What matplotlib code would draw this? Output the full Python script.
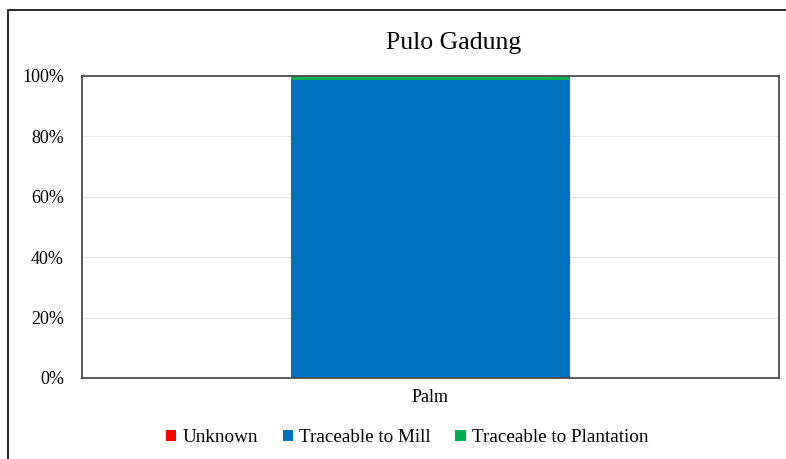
import matplotlib
matplotlib.use("Agg")
import matplotlib.pyplot as plt
from matplotlib.patches import Rectangle, Patch

categories = ["Palm"]
unknown = [0.0]
mill = [98.7]
plantation = [1.3]
series_names = ["Unknown", "Traceable to Mill", "Traceable to Plantation"]
colors = ["#FF0000", "#0070C0", "#00B050"]
yticks = [0, 20, 40, 60, 80, 100]

plt.rcParams['font.family'] = ['Liberation Serif', 'DejaVu Serif']

fig = plt.figure(figsize=(7.86, 4.59), dpi=100)
ax = fig.add_axes([82/786, 1-378/459, (779-82)/786, (378-76)/459])

x = list(range(len(categories)))
ax.bar(x, unknown, width=0.4, color=colors[0], zorder=3)
ax.bar(x, mill, width=0.4, bottom=unknown, color=colors[1], zorder=3)
bottom2 = [u + m for u, m in zip(unknown, mill)]
ax.bar(x, plantation, width=0.4, bottom=bottom2, color=colors[2], zorder=3)

ax.set_xlim(-0.5, 0.5)
ax.set_ylim(0, 100)
ax.set_yticks(yticks)
ax.set_yticklabels([f"{t}%" for t in yticks], fontsize=13)
ax.set_xticks(x)
ax.set_xticklabels(categories, fontsize=13)
ax.tick_params(axis='x', length=0, pad=8)
ax.tick_params(axis='y', length=0, pad=13)
ax.grid(axis='y', color='#E6E6E6', linewidth=0.8, zorder=0)
for s in ax.spines.values():
    s.set_color('#404040')
    s.set_linewidth(1.2)
    s.set_zorder(4)

fig.text(454/786, 1-43/459, "Pulo Gadung", ha='center', va='center', fontsize=18.5)

handles = [Patch(facecolor=c, edgecolor='none') for c in colors]
fig.legend(handles, series_names, loc='center', bbox_to_anchor=(407/786, 1-438/459),
           ncol=3, frameon=False, fontsize=13.8, handlelength=0.55, handleheight=0.55,
           handletextpad=0.3, columnspacing=1.3)

border = Rectangle((8/786, -0.1), 1.2, (1-10/459) + 0.1, transform=fig.transFigure,
                   fill=False, edgecolor='black', linewidth=1.2)
fig.add_artist(border)

fig.savefig("out.png", dpi=100)
